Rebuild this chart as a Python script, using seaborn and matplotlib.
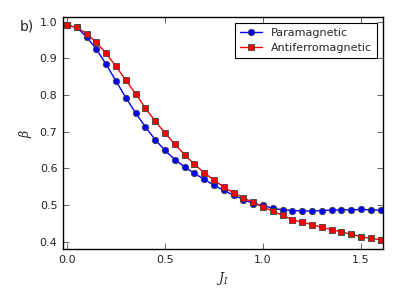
import numpy as np
import pandas as pd
import matplotlib
matplotlib.use("Agg")
import matplotlib.pyplot as plt
import seaborn as sns

# values, J_I = 0 .. 1.6 step 0.05
j_vals = [0.00, 0.05, 0.10, 0.15, 0.20, 0.25, 0.30, 0.35, 0.40, 0.45, 0.50,
          0.55, 0.60, 0.65, 0.70, 0.75, 0.80, 0.85, 0.90, 0.95, 1.00,
          1.05, 1.10, 1.15, 1.20, 1.25, 1.30, 1.35, 1.40, 1.45, 1.50,
          1.55, 1.60]
para = [0.990, 0.984, 0.958, 0.925, 0.883, 0.838, 0.793, 0.751, 0.713, 0.678, 0.649,
        0.624, 0.604, 0.586, 0.570, 0.554, 0.540, 0.527, 0.515, 0.504, 0.499,
        0.491, 0.487, 0.485, 0.484, 0.484, 0.485, 0.486, 0.487, 0.487, 0.488,
        0.487, 0.486]
antiferro = [0.990, 0.984, 0.967, 0.943, 0.913, 0.878, 0.840, 0.803, 0.764, 0.729, 0.696,
             0.666, 0.637, 0.611, 0.588, 0.568, 0.549, 0.533, 0.520, 0.507, 0.495,
             0.483, 0.472, 0.460, 0.453, 0.447, 0.439, 0.433, 0.427, 0.420, 0.414,
             0.409, 0.406]

df = pd.DataFrame({
    "J": j_vals * 2,
    "beta": para + antiferro,
    "phase": ["Paramagnetic"] * len(j_vals) + ["Antiferromagnetic"] * len(j_vals),
})

sns.set_style("ticks")
plt.rcParams["font.family"] = ["DejaVu Sans"]
plt.rcParams["mathtext.fontset"] = "dejavuserif"

fig = plt.figure(figsize=(3.99, 2.90), dpi=100)
ax = fig.add_axes([0.158, 0.141, 0.801, 0.800])

sns.lineplot(data=df, x="J", y="beta", hue="phase", style="phase",
             palette={"Paramagnetic": "#0000ff", "Antiferromagnetic": "#ff0000"},
             markers={"Paramagnetic": "o", "Antiferromagnetic": "s"},
             dashes=False, markersize=4.6, markeredgewidth=0.6,
             markeredgecolor="0.25", linewidth=1, ax=ax)

ax.set_xlim(-0.02, 1.61)
ax.set_ylim(0.38, 1.012)
ax.set_xticks([0.0, 0.5, 1.0, 1.5])
ax.set_yticks([0.4, 0.5, 0.6, 0.7, 0.8, 0.9, 1.0])
ax.xaxis.set_major_formatter(matplotlib.ticker.FormatStrFormatter("%.1f"))
ax.yaxis.set_major_formatter(matplotlib.ticker.FormatStrFormatter("%.1f"))
ax.tick_params(direction="in", top=True, right=True, labelsize=8,
               length=4, width=0.6, color="0.3", pad=4)
for s in ax.spines.values():
    s.set_color("black")
    s.set_linewidth(1)

ax.set_xlabel("$J_I$", fontsize=9, labelpad=4)
ax.set_ylabel(r"$\beta$", fontsize=9, labelpad=4)

h, l = ax.get_legend_handles_labels()
leg = ax.legend(h, l, loc="upper right", fontsize=8, frameon=True, fancybox=False,
                edgecolor="black", framealpha=1, borderaxespad=0.5,
                handlelength=2.0, borderpad=0.45, labelspacing=0.45)
leg.get_frame().set_linewidth(0.8)

fig.text(0.05, 0.895, "b)", fontsize=10)

fig.savefig("out.png", dpi=100)
